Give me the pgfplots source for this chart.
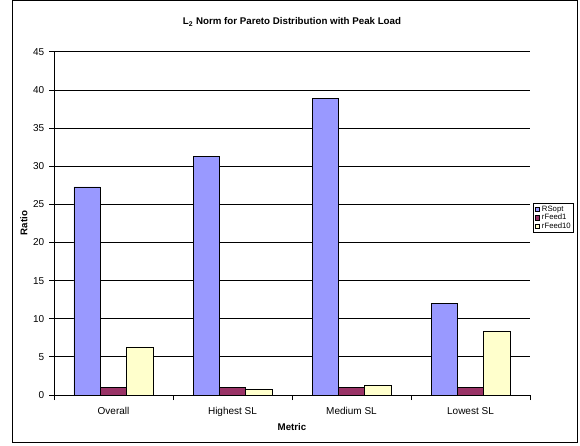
\documentclass[border=0pt]{standalone}
\usepackage{pgfplots}
\pgfplotsset{compat=1.18}
\usepackage{fontspec}
\setmainfont{Liberation Sans}
\definecolor{cA}{RGB}{153,153,255}
\definecolor{cB}{RGB}{153,51,102}
\definecolor{cC}{RGB}{255,255,204}
\pgfplotsset{mylegend/.style={legend image code/.code={\draw[##1,draw=black,line width=0.4pt] (0pt,-1.6pt) rectangle (3.2pt,1.6pt);}}}
\begin{document}
\begin{tikzpicture}[x=0.75pt,y=0.75pt]
\useasboundingbox (0,0) rectangle (580,445);
\draw[line width=0.75pt] (12,3) rectangle (577,444);
\begin{axis}[
 at={(40.5pt,37.5pt)}, anchor=south west,
 scale only axis, width=357pt, height=257.25pt,
 xmin=0, xmax=4, ymin=0, ymax=45,
 ybar, bar width=0.2213,
 axis x line*=bottom, axis y line*=left,
 axis line style={-, line width=0.75pt},
 xtick={0,1,2,3,4}, xticklabels={},
 extra x ticks={0.5,1.5,2.5,3.5},
 extra x tick labels={Overall,Highest SL,Medium SL,Lowest SL},
 extra x tick style={major tick length=0pt, xticklabel style={yshift=-6pt}},
 ytick={0,5,...,45},
 ymajorgrids, grid style={black, line width=0.75pt},
 tick align=outside, major tick length=3.75pt,
 tick style={black, line width=0.75pt},
 ticklabel style={font=\fontsize{7.5}{8}\selectfont},
 /pgf/number format/assume math mode=true,
 legend style={at={(1.006,0.560)}, anchor=north west, draw=black, line width=0.5pt,
   font=\fontsize{5.8}{6}\selectfont, inner sep=1.2pt, row sep=-0.5pt,
   nodes={inner sep=0.6pt}, cells={anchor=west},
   /tikz/every odd column/.append style={column sep=1.2pt}},
]
\addplot[fill=cA, draw=black, line width=0.6pt, bar shift=-0.2213, mylegend] coordinates {(0.5,27.3) (1.5,31.3) (2.5,38.9) (3.5,12.0)};
\addplot[fill=cB, draw=black, line width=0.6pt, bar shift=0, mylegend] coordinates {(0.5,1.0) (1.5,1.0) (2.5,1.0) (3.5,1.0)};
\addplot[fill=cC, draw=black, line width=0.6pt, bar shift=0.2213, mylegend] coordinates {(0.5,6.3) (1.5,0.8) (2.5,1.25) (3.5,8.4)};
\legend{RSopt,rFeed1,rFeed10}
\end{axis}
\node[font=\bfseries\fontsize{7.3}{8}\selectfont] at (292,423) {L\textsubscript{2} Norm for Pareto Distribution with Peak Load};
\node[font=\bfseries\fontsize{7.3}{8}\selectfont] at (292,18) {Metric};
\node[font=\bfseries\fontsize{7.3}{8}\selectfont, rotate=90] at (24,222) {Ratio};
\end{tikzpicture}
\end{document}
